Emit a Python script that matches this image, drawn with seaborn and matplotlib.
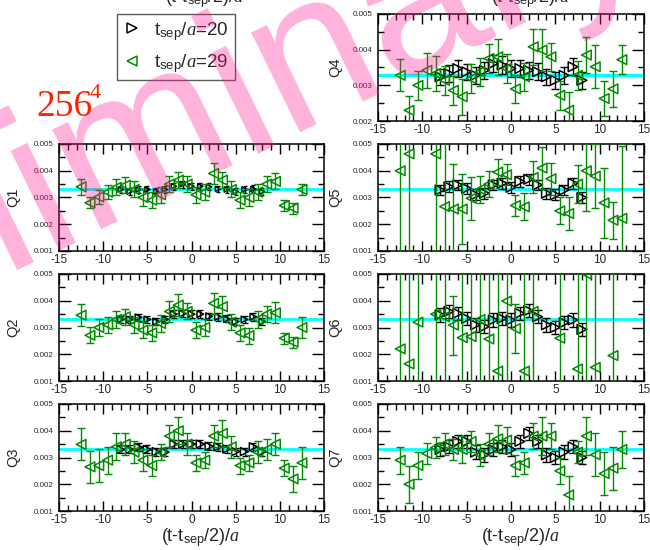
import numpy as np
import matplotlib
matplotlib.use("Agg")
import matplotlib.pyplot as plt
import seaborn as sns
from matplotlib.ticker import MultipleLocator, FormatStrFormatter
from matplotlib.lines import Line2D

sns.set_style("ticks")
plt.rcParams["font.family"] = ["Liberation Sans", "DejaVu Sans"]
plt.rcParams["mathtext.fontset"] = "custom"
plt.rcParams["mathtext.rm"] = "Liberation Sans"
plt.rcParams["mathtext.it"] = "Liberation Serif:italic"
plt.rcParams["axes.unicode_minus"] = False

nan = np.nan
# ---------------- data ----------------
x_b = [-8, -7, -6, -5, -4, -3, -2, -1, 0, 1, 2, 3, 4, 5, 6, 7, 8]          # t_sep/a = 20
x_g = [-12.5, -11.5, -10.5, -9.5, -8.5, -7.5, -6.5, -5.5, -4.5, -3.5, -2.5, -1.5, -0.5,
       0.5, 1.5, 2.5, 3.5, 4.5, 5.5, 6.5, 7.5, 8.5, 9.5, 10.5, 11.5, 12.5]  # t_sep/a = 29
plateau = 0.0033

q1_b = [0.00330, 0.00322, 0.00330, 0.00330, 0.00322, 0.00330, 0.00342, 0.00350, 0.00342,
        0.00342, 0.00340, 0.00332, 0.00330, 0.00322, 0.00330, 0.00332, 0.00322]
q1_be = [0.00012, 0.00012, 0.00012, 0.00012, 0.00012, 0.00012, 0.00013, 0.00013, 0.00013,
         0.00013, 0.00013, 0.00012, 0.00012, 0.00012, 0.00012, 0.00013, 0.00012]
q1_g = [0.00340, 0.00280, 0.00302, 0.00320, 0.00338, 0.00346, 0.00330, 0.00300, 0.00290,
        0.00310, 0.00350, 0.00365, 0.00350, 0.00310, 0.00320, 0.00390, 0.00365, 0.00330,
        0.00290, 0.00300, 0.00320, 0.00350, 0.00360, 0.00270, 0.00260, 0.00330]
q1_ge = [0.0003, 0.0002, 0.00025, 0.00025, 0.0003, 0.0003, 0.0003, 0.0003, 0.0003, 0.0003,
         0.0003, 0.0003, 0.0003, 0.0003, 0.0003, 0.0004, 0.0003, 0.0003, 0.0003, 0.0003,
         0.0003, 0.0003, 0.0003, 0.0002, 0.0002, 0.0002]

q2_b = [0.00330, 0.00330, 0.00338, 0.00330, 0.00322, 0.00330, 0.00350, 0.00352, 0.00350,
        0.00350, 0.00342, 0.00340, 0.00332, 0.00322, 0.00330, 0.00340, 0.00322]
q2_be = [0.00014, 0.00014, 0.00014, 0.00014, 0.00013, 0.00013, 0.00014, 0.00014, 0.00014,
         0.00014, 0.00014, 0.00014, 0.00013, 0.00013, 0.00014, 0.00014, 0.00014]
q2_g = [0.00346, 0.00271, 0.00300, 0.00310, 0.00330, 0.00340, 0.00310, 0.00290, 0.00280,
        0.00315, 0.00360, 0.00384, 0.00360, 0.00290, 0.00300, 0.00390, 0.00378, 0.00320,
        0.00280, 0.00270, 0.00330, 0.00350, 0.00355, 0.00260, 0.00245, 0.00300]
q2_ge = [0.0004, 0.0003, 0.0003, 0.0003, 0.0003, 0.0003, 0.0003, 0.0003, 0.0003, 0.0003,
         0.0004, 0.0004, 0.0003, 0.0003, 0.0003, 0.0004, 0.0004, 0.0003, 0.0003, 0.0003,
         0.0003, 0.0003, 0.0004, 0.0002, 0.0002, 0.0004]

q3_b = [0.00330, 0.00330, 0.00338, 0.00330, 0.00322, 0.00320, 0.00350, 0.00350, 0.00350,
        0.00350, 0.00342, 0.00340, 0.00332, 0.00322, 0.00322, 0.00340, 0.00322]
q3_be = [0.00015, 0.00015, 0.00015, 0.00015, 0.00015, 0.00015, 0.00015, 0.00015, 0.00015,
         0.00015, 0.00015, 0.00015, 0.00015, 0.00015, 0.00015, 0.00015, 0.00015]
q3_g = [0.00349, 0.00265, 0.00270, 0.00290, 0.00340, 0.00350, 0.00320, 0.00290, 0.00270,
        0.00320, 0.00380, 0.00400, 0.00350, 0.00280, 0.00290, 0.00380, 0.00390, 0.00340,
        0.00270, 0.00280, 0.00320, 0.00330, 0.00350, 0.00260, 0.00220, 0.00280]
q3_ge = [0.0006, 0.0006, 0.0006, 0.0005, 0.0005, 0.0004, 0.0004, 0.0004, 0.0004, 0.0003,
         0.0004, 0.0005, 0.0004, 0.0003, 0.0003, 0.0004, 0.0005, 0.0004, 0.0003, 0.0003,
         0.0004, 0.0004, 0.0004, 0.0003, 0.0005, 0.0006]

q4_b = [0.00324, 0.00333, 0.00347, 0.00338, 0.00328, 0.00342, 0.00361, 0.00357, 0.00347,
        0.00347, 0.00342, 0.00338, 0.00324, 0.00314, 0.00328, 0.00352, 0.00314]
q4_be = [0.00023, 0.00023, 0.00023, 0.00023, 0.00023, 0.00023, 0.00024, 0.00024, 0.00024,
         0.00024, 0.00024, 0.00024, 0.00023, 0.00023, 0.00023, 0.00024, 0.00023]
q4_g = [0.00328, 0.00230, 0.00300, 0.00342, 0.00333, 0.00314, 0.00286, 0.00268, 0.00319,
        0.00338, 0.00375, 0.00380, 0.00347, 0.00290, 0.00324, 0.00408, 0.00399, 0.00380,
        0.00272, 0.00230, 0.00328, 0.00385, 0.00352, 0.00263, 0.00290, 0.00372]
q4_ge = [0.00045, 0.0004, 0.0004, 0.0005, 0.0005, 0.0004, 0.0004, 0.0005, 0.0004, 0.0004,
         0.0004, 0.0005, 0.0004, 0.0004, 0.0004, 0.0005, 0.0006, 0.0004, 0.0004, 0.0005,
         0.0004, 0.0005, 0.0006, 0.0005, 0.0005, 0.0004]

q5_b = [0.00328, 0.00340, 0.00347, 0.00334, 0.00310, 0.00316, 0.00347, 0.00353, 0.00338,
        0.00360, 0.00368, 0.00347, 0.00316, 0.00310, 0.00328, 0.00353, 0.00300]
q5_be = [0.00020, 0.00020, 0.00020, 0.00020, 0.00020, 0.00020, 0.00020, 0.00020, 0.00020,
         0.00020, 0.00020, 0.00020, 0.00020, 0.00020, 0.00020, 0.00020, 0.00020]
q5_g = [0.00400, 0.00463, nan, nan, 0.00463, 0.00266, 0.00257, 0.00257, 0.00297, 0.00330,
        0.00350, 0.00395, 0.00385, 0.00270, 0.00265, 0.00375, 0.00410, 0.00370, 0.00250,
        0.00240, 0.00350, 0.00400, 0.00380, 0.00280, 0.00215, 0.00222]
q5_ge = [0.005, 0.005, nan, nan, 0.005, 0.005, 0.0017, 0.0013, 0.0008, 0.0005, 0.0005,
         0.0005, 0.0004, 0.0004, 0.0005, 0.0006, 0.0008, 0.0006, 0.0005, 0.0006, 0.0007,
         0.0015, 0.0012, 0.0013, 0.0007, 0.0027]

q6_b = [0.00347, 0.00360, 0.00353, 0.00334, 0.00310, 0.00303, 0.00328, 0.00334, 0.00328,
        0.00353, 0.00363, 0.00340, 0.00310, 0.00300, 0.00318, 0.00328, 0.00293]
q6_be = [0.00025, 0.00025, 0.00025, 0.00025, 0.00025, 0.00025, 0.00025, 0.00025, 0.00025,
         0.00025, 0.00025, 0.00025, 0.00025, 0.00025, 0.00025, 0.00025, 0.00025]
q6_g = [0.00220, 0.00164, 0.00320, nan, 0.00350, 0.00340, 0.00309, 0.00262, 0.00266,
        0.00330, 0.00257, 0.00137, 0.00399, 0.00296, 0.00137, 0.00360, nan, nan, 0.00260,
        nan, 0.00145, 0.00500, 0.00151, nan, 0.00195, nan]
q6_ge = [0.01, 0.01, 0.01, nan, 0.01, 0.01, 0.0011, 0.01, 0.01, 0.01, 0.01, 0.01, 0.01,
         0.0009, 0.01, 0.01, nan, nan, 0.01, nan, 0.01, 0.01, 0.01, nan, 0.01, nan]

q7_b = [0.00330, 0.00340, 0.00360, 0.00360, 0.00320, 0.00310, 0.00330, 0.00340, 0.00330,
        0.00360, 0.00390, 0.00360, 0.00310, 0.00300, 0.00320, 0.00340, 0.00300]
q7_be = [0.00025, 0.00025, 0.00025, 0.00025, 0.00025, 0.00025, 0.00025, 0.00025, 0.00025,
         0.00025, 0.00025, 0.00025, 0.00025, 0.00025, 0.00025, 0.00025, 0.00025]
q7_g = [0.00290, 0.00200, 0.00270, 0.00315, 0.00337, 0.00350, 0.00330, 0.00330, 0.00360,
        0.00310, 0.00350, 0.00370, 0.00365, 0.00270, 0.00280, 0.00380, 0.00380, 0.00380,
        0.00250, 0.00160, 0.00320, 0.00380, 0.00310, 0.00240, 0.00260, 0.00330]
q7_ge = [0.0005, 0.0007, 0.0005, 0.0004, 0.0004, 0.0004, 0.0004, 0.0005, 0.0004, 0.0004,
         0.0004, 0.0005, 0.0005, 0.0004, 0.0004, 0.0005, 0.0007, 0.0005, 0.0005, 0.0007,
         0.0004, 0.0007, 0.0008, 0.0008, 0.0008, 0.0007]

legend_labels = [r"t$_{\rm sep}$/$a$=20", r"t$_{\rm sep}$/$a$=29"]
xlabel = r"(t-t$_{\rm sep}$/2)/$a$"
lattice = "256"

GREEN = "#008b00"
CYAN = "#00ffff"

# ---------------- layout ----------------
fig = plt.figure(figsize=(6.5, 5.5), dpi=100)
W, Hh = 650.0, 550.0
col_x = {0: 59, 1: 378}
col_w = {0: 265, 1: 266}
row_top = {0: 14, 1: 144, 2: 274, 3: 404}
PH = 107

def rect(col, row):
    return [col_x[col] / W, 1 - (row_top[row] + PH) / Hh, col_w[col] / W, PH / Hh]

panels = [
    ("Q4", 1, 0, q4_b, q4_be, q4_g, q4_ge, 0.002, 7.0, 2.9, 2.4),
    ("Q1", 0, 1, q1_b, q1_be, q1_g, q1_ge, 0.001, 3.8, 1.6, 2.0),
    ("Q5", 1, 1, q5_b, q5_be, q5_g, q5_ge, 0.001, 7.0, 2.9, 2.0),
    ("Q2", 0, 2, q2_b, q2_be, q2_g, q2_ge, 0.001, 4.8, 2.0, 2.0),
    ("Q6", 1, 2, q6_b, q6_be, q6_g, q6_ge, 0.001, 7.0, 2.9, 2.0),
    ("Q3", 0, 3, q3_b, q3_be, q3_g, q3_ge, 0.001, 5.8, 2.4, 2.0),
    ("Q7", 1, 3, q7_b, q7_be, q7_g, q7_ge, 0.001, 7.0, 2.9, 2.0),
]

for name, col, row, yb, yb_e, yg, yg_e, ylo, bsize, bcap, clw in panels:
    ax = fig.add_axes(rect(col, row))
    ax.axhline(plateau, color=CYAN, lw=clw, zorder=1)
    ax.errorbar(x_b, yb, yerr=yb_e, fmt="none", ecolor="black", elinewidth=1.0,
                capsize=bcap, capthick=1.0, zorder=2)
    sns.scatterplot(x=x_b, y=yb, marker=">", s=bsize ** 2, facecolor="none",
                    edgecolor="black", linewidth=1.1, ax=ax, zorder=3)
    ax.errorbar(x_g, yg, yerr=yg_e, fmt="none", ecolor=GREEN, elinewidth=1.0,
                capsize=2.6, capthick=1.0, zorder=4)
    sns.scatterplot(x=x_g, y=yg, marker="<", s=49, facecolor="none",
                    edgecolor=GREEN, linewidth=1.1, ax=ax, zorder=5)
    ax.set_xlim(-15, 15)
    ax.set_ylim(ylo, 0.005)
    ax.xaxis.set_major_locator(MultipleLocator(5))
    ax.xaxis.set_minor_locator(MultipleLocator(1))
    ax.yaxis.set_major_locator(MultipleLocator(0.001))
    ax.yaxis.set_minor_locator(MultipleLocator(0.0005))
    ax.yaxis.set_major_formatter(FormatStrFormatter("%.3f"))
    ax.tick_params(axis="both", which="both", direction="in", top=True, right=True,
                   width=1.0, color="black")
    ax.tick_params(axis="x", which="major", length=7, labelsize=8.5, pad=2.5)
    ax.tick_params(axis="x", which="minor", length=4)
    ax.tick_params(axis="y", which="major", length=8.5, labelsize=5.8, pad=4)
    ax.tick_params(axis="y", which="minor", length=4)
    for sp in ax.spines.values():
        sp.set_linewidth(1.1)
        sp.set_color("black")
    ax.set_ylabel(name, fontsize=10.5)
    ax.yaxis.set_label_coords(-0.145 if col == 0 else -0.135, 0.5)
    if row == 3:
        ax.set_xlabel(xlabel, fontsize=13)
        ax.xaxis.set_label_coords(0.535, -0.145)
    else:
        ax.set_xlabel("")

# partially cut labels of the panels above (figure is a crop)
for cx in (205 / W, 531 / W):
    fig.text(cx, 1 - 2 / Hh, xlabel, fontsize=13, ha="center", va="baseline")

# legend
handles = [Line2D([], [], ls="none", marker=">", mfc="none", mec="black", ms=7, mew=1.1),
           Line2D([], [], ls="none", marker="<", mfc="none", mec=GREEN, ms=7, mew=1.1)]
leg = fig.legend(handles, legend_labels, loc="upper left",
                 bbox_to_anchor=(117 / W, 1 - 14 / Hh), frameon=True, fancybox=False,
                 edgecolor="#333333", fontsize=13.5, handlelength=1.0, handletextpad=0.7,
                 borderpad=0.3, labelspacing=0.5, borderaxespad=0)
leg.get_frame().set_linewidth(1.0)

# lattice size label
fig.text(36 / W, 1 - 116 / Hh, lattice, fontsize=27, color="#ff2200",
         fontfamily="Liberation Serif", va="baseline", ha="left")
fig.text(90 / W, 1 - 98 / Hh, "4", fontsize=16, color="#ff2200",
         fontfamily="Liberation Serif", va="baseline", ha="left")

# watermark
fig.text(-290 / W, 1 - 411 / Hh, "Preliminary", fontsize=151, rotation=26,
         rotation_mode="anchor", ha="left", va="baseline", color="deeppink",
         alpha=0.33, zorder=100)

fig.savefig("out.png", dpi=100)
